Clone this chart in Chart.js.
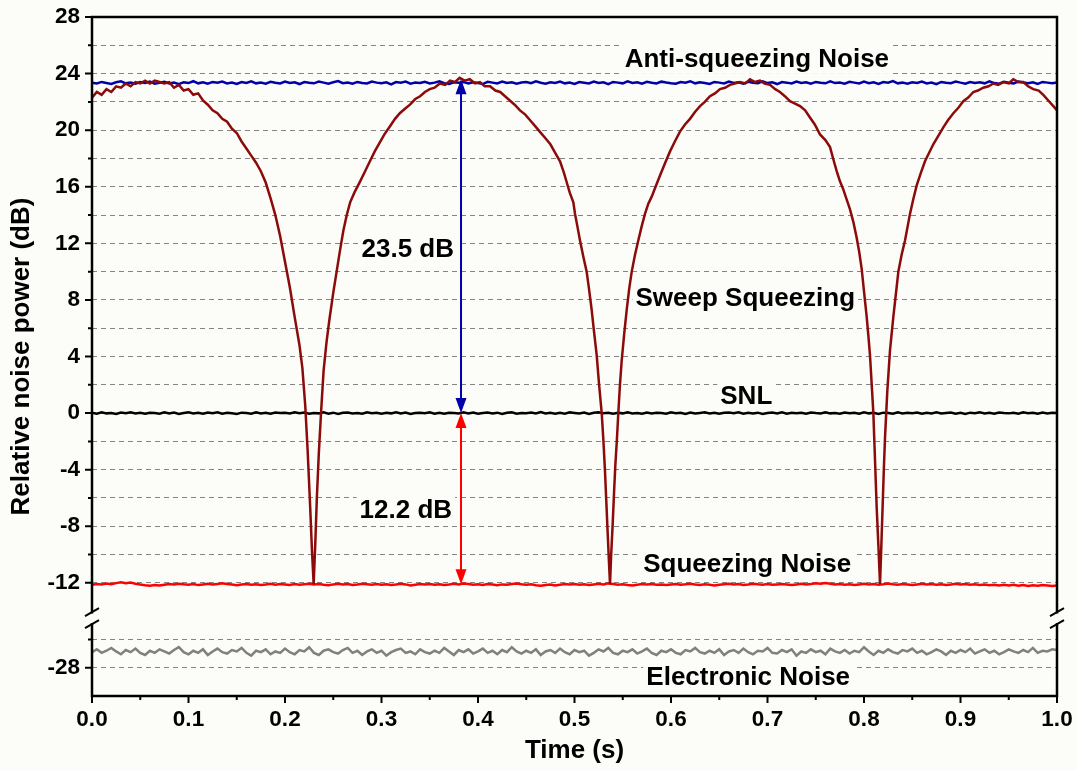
<!DOCTYPE html>
<html>
<head>
<meta charset="utf-8">
<script src="https://cdn.jsdelivr.net/npm/chart.js@4/dist/chart.umd.min.js"></script>
<style>
html,body{margin:0;padding:0;background:#fcfcf8;}
#wrap{width:1077px;height:770px;position:relative;}
</style>
</head>
<body>
<div id="wrap"><canvas id="c" width="1077" height="770"></canvas></div>
<script>
// ---------- DATA ----------
const xTickValues = [0.0,0.1,0.2,0.3,0.4,0.5,0.6,0.7,0.8,0.9,1.0];
const xMinorTickValues = [0.05,0.15,0.25,0.35,0.45,0.55,0.65,0.75,0.85,0.95];
const yTickLabelValues = [28,24,20,16,12,8,4,0,-4,-8,-12,-28];
const yMinorTickValues = [26,22,18,14,10,6,2,-2,-6,-10,-26];
const yGridValues = [26,24,22,20,18,16,14,12,10,8,6,4,2,0,-2,-4,-6,-8,-10,-12,-26,-28];

const noiseTime = [0.000,0.005,0.010,0.015,0.020,0.025,0.030,0.035,0.040,0.045,
0.050,0.055,0.060,0.065,0.070,0.075,0.080,0.085,0.090,0.095,
0.100,0.105,0.110,0.115,0.120,0.125,0.130,0.135,0.140,0.145,
0.150,0.155,0.160,0.165,0.170,0.175,0.180,0.185,0.190,0.195,
0.200,0.205,0.210,0.215,0.220,0.225,0.230,0.235,0.240,0.245,
0.250,0.255,0.260,0.265,0.270,0.275,0.280,0.285,0.290,0.295,
0.300,0.305,0.310,0.315,0.320,0.325,0.330,0.335,0.340,0.345,
0.350,0.355,0.360,0.365,0.370,0.375,0.380,0.385,0.390,0.395,
0.400,0.405,0.410,0.415,0.420,0.425,0.430,0.435,0.440,0.445,
0.450,0.455,0.460,0.465,0.470,0.475,0.480,0.485,0.490,0.495,
0.500,0.505,0.510,0.515,0.520,0.525,0.530,0.535,0.540,0.545,
0.550,0.555,0.560,0.565,0.570,0.575,0.580,0.585,0.590,0.595,
0.600,0.605,0.610,0.615,0.620,0.625,0.630,0.635,0.640,0.645,
0.650,0.655,0.660,0.665,0.670,0.675,0.680,0.685,0.690,0.695,
0.700,0.705,0.710,0.715,0.720,0.725,0.730,0.735,0.740,0.745,
0.750,0.755,0.760,0.765,0.770,0.775,0.780,0.785,0.790,0.795,
0.800,0.805,0.810,0.815,0.820,0.825,0.830,0.835,0.840,0.845,
0.850,0.855,0.860,0.865,0.870,0.875,0.880,0.885,0.890,0.895,
0.900,0.905,0.910,0.915,0.920,0.925,0.930,0.935,0.940,0.945,
0.950,0.955,0.960,0.965,0.970,0.975,0.980,0.985,0.990,0.995,
1.000];

const antiSqueezing = [23.36,23.30,23.41,23.33,23.27,23.39,23.45,23.31,23.36,23.28,
23.40,23.34,23.44,23.29,23.35,23.42,23.30,23.37,23.25,23.39,
23.33,23.46,23.31,23.38,23.28,23.41,23.35,23.43,23.30,23.36,
23.27,23.40,23.34,23.45,23.31,23.37,23.29,23.42,23.35,23.30,
23.44,23.33,23.38,23.26,23.40,23.35,23.31,23.43,23.36,23.29,
23.39,23.47,23.32,23.37,23.28,23.41,23.34,23.30,23.44,23.36,
23.31,23.38,23.24,23.40,23.35,23.43,23.29,23.37,23.33,23.42,
23.30,23.36,23.45,23.32,23.27,23.39,23.35,23.41,23.31,23.38,
23.34,23.26,23.42,23.36,23.30,23.44,23.33,23.39,23.28,23.37,
23.41,23.32,23.46,23.35,23.29,23.38,23.34,23.43,23.31,23.36,
23.27,23.40,23.35,23.30,23.44,23.33,23.38,23.25,23.41,23.36,
23.31,23.45,23.34,23.39,23.29,23.42,23.35,23.30,23.43,23.37,
23.32,23.28,23.40,23.35,23.46,23.31,23.38,23.33,23.27,23.41,
23.36,23.30,23.44,23.34,23.39,23.29,23.42,23.35,23.31,23.45,
23.33,23.38,23.26,23.40,23.36,23.30,23.43,23.34,23.39,23.28,
23.41,23.35,23.31,23.45,23.33,23.37,23.29,23.42,23.36,23.30,
23.44,23.32,23.38,23.27,23.40,23.35,23.47,23.31,23.36,23.29,
23.39,23.34,23.43,23.30,23.37,23.25,23.41,23.35,23.32,23.44,
23.36,23.29,23.40,23.34,23.38,23.31,23.45,23.33,23.28,23.42,
23.35,23.30,23.43,23.37,23.32,23.39,23.27,23.41,23.36,23.31,
23.38];

const snl = [0.03,-0.04,0.05,-0.02,0.01,-0.06,0.04,-0.01,0.06,-0.03,
0.02,-0.05,0.03,0.00,-0.04,0.05,-0.02,0.04,-0.06,0.01,
0.05,-0.03,0.02,-0.05,0.04,-0.01,0.06,-0.04,0.02,-0.02,
-0.06,0.03,0.01,-0.04,0.05,-0.02,0.03,-0.05,0.04,0.00,
0.02,-0.03,0.06,-0.01,0.04,-0.05,0.01,-0.02,0.05,-0.04,
0.03,-0.06,0.02,0.04,-0.03,0.01,-0.05,0.05,-0.01,0.03,
-0.04,0.02,-0.02,0.06,-0.03,0.04,-0.06,0.01,0.03,-0.01,
0.05,-0.04,0.02,-0.05,0.03,0.00,-0.03,0.06,-0.02,0.04,
-0.05,0.01,0.04,-0.02,0.03,-0.06,0.02,0.05,-0.04,0.01,
-0.01,0.04,-0.03,0.07,-0.02,0.03,-0.05,0.02,-0.04,0.05,
0.01,-0.03,0.04,-0.06,0.02,0.05,-0.01,0.03,-0.04,0.02,
-0.02,0.06,-0.03,0.01,-0.05,0.04,-0.02,0.03,0.00,-0.04,
0.05,-0.01,0.02,-0.06,0.04,-0.03,0.01,0.05,-0.02,0.03,
-0.05,0.02,0.04,-0.01,0.06,-0.04,0.02,-0.03,0.03,-0.06,
0.01,0.04,-0.02,0.05,-0.04,0.02,-0.01,0.03,-0.05,0.04,
0.00,-0.03,0.06,-0.02,0.01,-0.05,0.04,-0.01,0.03,-0.04,
0.05,-0.02,0.02,-0.06,0.03,0.01,-0.04,0.05,-0.03,0.02,
-0.01,0.04,-0.05,0.03,-0.02,0.06,-0.03,0.01,0.04,-0.04,
0.02,-0.06,0.03,-0.01,0.05,-0.03,0.02,-0.05,0.04,0.00,
-0.02,0.03,-0.04,0.05,-0.01,0.02,-0.05,0.04,-0.02,0.03,
0.01];

const squeezing = [-12.14,-12.08,-12.12,-12.05,-12.10,-12.02,-11.96,-12.03,-11.98,-12.06,
-12.12,-12.17,-12.21,-12.15,-12.19,-12.13,-12.08,-12.12,-12.06,-12.10,
-12.13,-12.08,-12.16,-12.11,-12.06,-12.12,-12.09,-12.03,-12.08,-12.12,
-12.17,-12.12,-12.08,-12.14,-12.10,-12.16,-12.12,-12.07,-12.13,-12.09,
-12.11,-12.15,-12.09,-12.14,-12.10,-12.06,-12.12,-12.08,-12.13,-12.17,
-12.11,-12.07,-12.12,-12.08,-12.15,-12.11,-12.06,-12.10,-12.14,-12.09,
-12.13,-12.10,-12.16,-12.12,-12.07,-12.11,-12.19,-12.14,-12.09,-12.12,
-12.08,-12.13,-12.10,-12.16,-12.12,-12.07,-12.11,-12.05,-12.09,-12.13,
-12.10,-12.15,-12.08,-12.12,-12.17,-12.11,-12.14,-12.09,-12.05,-12.10,
-12.14,-12.10,-12.17,-12.21,-12.16,-12.12,-12.18,-12.13,-12.09,-12.12,
-12.08,-12.13,-12.10,-12.15,-12.11,-12.07,-12.12,-12.04,-12.09,-12.14,
-12.10,-12.15,-12.19,-12.13,-12.09,-12.12,-12.08,-12.14,-12.11,-12.16,
-12.12,-12.08,-12.13,-12.10,-12.06,-12.11,-12.15,-12.10,-12.13,-12.18,
-12.14,-12.10,-12.07,-12.12,-12.09,-12.15,-12.11,-12.06,-12.10,-12.13,
-12.09,-12.14,-12.11,-12.08,-12.12,-12.16,-12.11,-12.07,-12.12,-12.09,
-12.03,-12.07,-12.01,-12.06,-12.11,-12.08,-12.13,-12.10,-12.15,-12.11,
-12.07,-12.12,-12.09,-12.14,-12.10,-12.05,-12.10,-12.13,-12.08,-12.12,
-12.16,-12.11,-12.07,-12.12,-12.09,-12.14,-12.10,-12.15,-12.11,-12.06,
-12.11,-12.08,-12.13,-12.10,-12.15,-12.12,-12.17,-12.13,-12.19,-12.14,
-12.18,-12.13,-12.20,-12.16,-12.22,-12.17,-12.21,-12.15,-12.19,-12.23,
-12.18];

const electronic = [-26.90,-26.70,-26.95,-26.80,-26.60,-26.85,-27.05,-26.75,-26.90,-26.65,
-26.95,-27.10,-26.80,-26.95,-26.70,-26.85,-27.00,-26.75,-26.55,-26.90,
-27.05,-26.80,-26.95,-26.70,-27.10,-26.85,-26.65,-26.90,-27.00,-26.75,
-26.85,-26.60,-26.95,-27.15,-26.80,-26.90,-26.70,-27.05,-26.85,-26.95,
-26.65,-26.90,-27.05,-26.75,-26.85,-26.55,-26.95,-27.10,-26.80,-26.70,
-26.90,-27.00,-26.75,-26.60,-26.95,-26.80,-27.10,-26.85,-26.70,-26.95,
-26.80,-27.15,-26.90,-26.75,-26.65,-26.95,-26.85,-27.05,-26.70,-26.90,
-27.00,-26.80,-26.95,-26.60,-26.85,-27.10,-26.75,-26.90,-26.70,-27.00,
-26.85,-26.65,-26.95,-26.80,-27.05,-26.75,-26.90,-26.55,-26.85,-27.00,
-26.80,-26.95,-26.70,-27.10,-26.85,-26.75,-26.95,-26.65,-26.90,-27.05,
-26.75,-26.90,-26.80,-27.15,-26.95,-26.70,-26.85,-26.60,-26.95,-27.05,
-26.80,-26.90,-26.70,-27.00,-26.85,-26.65,-26.95,-27.10,-26.80,-26.90,
-26.70,-26.95,-27.05,-26.75,-26.85,-26.60,-26.90,-27.00,-26.80,-26.95,
-26.70,-27.10,-26.85,-26.75,-26.95,-26.65,-26.90,-27.05,-26.80,-26.85,
-26.60,-26.95,-27.00,-26.75,-26.90,-26.70,-27.15,-26.85,-26.95,-26.70,
-26.90,-26.80,-27.05,-26.65,-26.85,-26.95,-26.75,-27.00,-26.80,-26.90,
-26.55,-26.85,-27.10,-26.80,-26.95,-26.70,-26.90,-27.00,-26.75,-26.85,
-26.65,-26.95,-26.80,-27.05,-26.90,-26.70,-26.85,-27.10,-26.80,-26.95,
-26.75,-26.90,-26.65,-27.00,-26.85,-26.70,-26.95,-26.80,-27.05,-26.90,
-26.70,-26.85,-26.95,-26.75,-26.90,-26.60,-26.95,-26.80,-26.85,-26.70,
-26.75];

const sweepTime = [0.000,0.005,0.010,0.015,0.020,0.025,0.030,0.035,0.040,0.045,
0.050,0.055,0.060,0.065,0.070,0.075,0.080,0.085,0.090,0.095,
0.100,0.105,0.110,0.115,0.120,0.125,0.130,0.135,0.140,0.145,
0.150,0.155,0.160,0.165,0.170,0.175,0.180,0.185,0.190,0.195,
0.200,0.205,0.210,0.215,0.218,0.221,0.2235,0.226,0.228,0.2297,
0.2315,0.233,0.235,0.2375,0.240,0.243,0.246,0.250,0.2535,0.257,
0.2605,0.264,0.2675,0.272,0.278,0.283,0.288,0.293,0.298,0.303,
0.309,0.314,0.319,0.324,0.3295,0.335,0.340,0.345,0.350,0.355,
0.3605,0.366,0.371,0.376,0.381,0.386,0.3915,0.397,0.402,0.407,
0.4125,0.418,0.423,0.428,0.433,0.438,0.4435,0.449,0.454,0.459,
0.464,0.469,0.475,0.480,0.485,0.489,0.492,0.495,0.4988,0.5005,
0.503,0.5057,0.509,0.5126,0.515,0.5178,0.520,0.523,0.5255,0.5282,
0.530,0.5316,0.533,0.5344,0.5357,0.5368,0.538,0.5396,0.541,0.5423,
0.544,0.5454,0.547,0.5489,0.5515,0.5541,0.5567,0.5593,0.5627,0.5661,
0.5696,0.5731,0.5765,0.580,0.584,0.5886,0.594,0.599,0.604,0.6093,
0.6145,0.6197,0.625,0.6301,0.635,0.6404,0.6455,0.6508,0.656,0.6611,
0.666,0.6715,0.677,0.6819,0.687,0.6922,0.697,0.7026,0.708,0.7129,
0.718,0.7233,0.728,0.7337,0.739,0.744,0.749,0.7544,0.760,0.7648,
0.768,0.7717,0.775,0.7786,0.782,0.7855,0.789,0.7924,0.795,0.7976,
0.800,0.8028,0.8045,0.8062,0.808,0.8097,0.8114,0.8131,0.815,0.8166,
0.818,0.8193,0.8205,0.8218,0.8241,0.8269,0.8304,0.833,0.8356,0.839,
0.8425,0.8477,0.851,0.8546,0.859,0.8632,0.8675,0.8718,0.877,0.8822,
0.887,0.8926,0.898,0.9029,0.908,0.9133,0.918,0.9236,0.929,0.934,
0.939,0.9443,0.950,0.9547,0.960,0.9651,0.970,0.9754,0.981,0.9858,
0.991,0.9962,1.000];

const sweepPower = [22.3,22.7,22.5,22.9,22.7,23.1,23.0,23.3,23.1,23.4,
23.3,23.5,23.3,23.5,23.4,23.3,23.4,23.0,23.2,22.8,
22.9,22.5,22.6,22.1,21.8,21.4,21.2,20.8,20.6,20.1,
19.8,19.2,18.7,18.2,17.7,17.1,16.3,15.2,14.0,12.5,
10.7,8.9,6.8,4.8,3.2,0.5,-2.7,-6.5,-9.8,-12.1,
-9.0,-6.0,-2.9,0.2,3.0,5.0,6.6,8.5,10.0,11.5,
12.9,14.0,14.9,15.6,16.4,17.1,17.8,18.5,19.1,19.7,
20.3,20.8,21.2,21.5,21.8,22.2,22.4,22.7,22.9,23.0,
23.3,23.2,23.5,23.4,23.7,23.5,23.6,23.3,23.4,23.1,
23.1,22.8,22.7,22.4,22.1,21.8,21.4,21.1,20.7,20.3,
19.9,19.5,19.0,18.4,17.8,17.0,16.3,15.6,14.9,14.1,
13.2,12.2,11.1,10.0,8.8,7.3,5.9,4.1,2.0,0.0,
-2.0,-4.1,-6.3,-8.5,-10.5,-12.1,-10.0,-7.8,-5.6,-3.7,
-1.8,0.0,1.9,3.7,5.6,7.3,8.8,10.0,11.2,12.2,
13.2,14.1,14.8,15.3,16.0,16.8,17.7,18.5,19.2,19.9,
20.4,20.8,21.3,21.7,22.0,22.4,22.6,22.9,23.0,23.2,
23.3,23.4,23.3,23.6,23.4,23.5,23.3,23.2,22.9,22.7,
22.4,22.05,21.9,21.7,21.4,20.9,20.4,19.7,19.3,18.8,
18.0,17.1,16.4,15.8,15.1,14.4,13.5,12.4,11.4,10.2,
8.6,6.8,5.5,4.1,2.0,0.0,-3.3,-6.6,-9.5,-12.1,
-9.3,-6.6,-4.1,-1.7,1.5,4.4,6.8,8.4,10.0,11.2,
12.2,14.1,15.1,16.1,17.0,17.8,18.4,19.0,19.6,20.2,
20.7,21.2,21.6,22.05,22.3,22.7,22.8,23.0,23.1,23.3,
23.2,23.4,23.3,23.6,23.4,23.4,23.1,22.9,22.8,22.5,
22.1,21.7,21.4];

// double-arrow annotation values (dB)
const arrowTime = 0.3824;
const antiArrowValues = [23.6, 0];
const squeezeArrowValues = [0, -12.1];

// ---------- AXIS BREAK (display mapping) ----------
const BREAK_REAL = -14;      // values below this are in the lower segment
const BREAK_SHIFT = 10;      // lower segment shifted up by this many dB on the drawing axis
const toAxis = v => v < BREAK_REAL ? v + BREAK_SHIFT : v;
const toReal = v => v < BREAK_REAL ? v - BREAK_SHIFT : v;

const BG = '#fcfcf8';
const FONT = '"Liberation Sans", Arial, sans-serif';

function pts(xs, ys){ return xs.map((x,i)=>({x:x, y:toAxis(ys[i])})); }

// text annotations: text, time, baseline value (dB, real)
const labels = [
  {text:'Anti-squeezing Noise', x:0.689, y:24.47},
  {text:'Sweep Squeezing', x:0.677, y:7.59},
  {text:'SNL', x:0.678, y:0.62},
  {text:'Squeezing Noise', x:0.679, y:-11.23},
  {text:'Electronic Noise', x:0.680, y:-29.22},
  {text:'23.5 dB', x:0.3272, y:11.01},
  {text:'12.2 dB', x:0.3252, y:-7.39}
];
const LABEL_FONT = 'bold 26px ' + FONT;

const decor = {
  id: 'decor',
  beforeDraw(chart){
    const ctx = chart.ctx;
    ctx.save(); ctx.fillStyle = BG; ctx.fillRect(0,0,chart.width,chart.height); ctx.restore();
  },
  beforeDatasetsDraw(chart){
    const ctx = chart.ctx, xs = chart.scales.x, ys = chart.scales.y;
    ctx.save();
    ctx.font = LABEL_FONT;
    ctx.fillStyle = BG;
    labels.forEach(l=>{
      const w = ctx.measureText(l.text).width;
      const cx = xs.getPixelForValue(l.x), by = ys.getPixelForValue(toAxis(l.y));
      ctx.fillRect(cx - w/2 - 3, by - 24, w + 6, 31);
    });
    ctx.restore();
  },
  afterDatasetsDraw(chart){
    const ctx = chart.ctx, xs = chart.scales.x, ys = chart.scales.y;
    const {left,right,top,bottom} = chart.chartArea;
    ctx.save();
    function dblArrow(vals, color){
      const x = xs.getPixelForValue(arrowTime);
      const y1 = ys.getPixelForValue(toAxis(vals[0]));
      const y2 = ys.getPixelForValue(toAxis(vals[1]));
      const hl = 15, hw = 5.5;
      ctx.strokeStyle = color; ctx.fillStyle = color; ctx.lineWidth = 2;
      ctx.beginPath(); ctx.moveTo(x, y1 + hl - 2); ctx.lineTo(x, y2 - hl + 2); ctx.stroke();
      ctx.beginPath(); ctx.moveTo(x, y1); ctx.lineTo(x - hw, y1 + hl); ctx.lineTo(x + hw, y1 + hl); ctx.closePath(); ctx.fill();
      ctx.beginPath(); ctx.moveTo(x, y2); ctx.lineTo(x - hw, y2 - hl); ctx.lineTo(x + hw, y2 - hl); ctx.closePath(); ctx.fill();
    }
    dblArrow(antiArrowValues, '#0000aa');
    dblArrow(squeezeArrowValues, '#ff0000');

    ctx.font = LABEL_FONT; ctx.fillStyle = '#000'; ctx.textAlign = 'center'; ctx.textBaseline = 'alphabetic';
    labels.forEach(l=>{
      ctx.fillText(l.text, xs.getPixelForValue(l.x), ys.getPixelForValue(toAxis(l.y)));
    });

    // frame with axis break
    const yc = ys.getPixelForValue(-14.5);
    const gap = 6;
    ctx.strokeStyle = '#000'; ctx.lineWidth = 2.5; ctx.lineCap = 'square';
    ctx.beginPath();
    ctx.moveTo(left, top); ctx.lineTo(right, top);
    ctx.moveTo(left, bottom); ctx.lineTo(right, bottom);
    [left, right].forEach(x=>{
      ctx.moveTo(x, top); ctx.lineTo(x, yc - gap);
      ctx.moveTo(x, yc + gap); ctx.lineTo(x, bottom);
    });
    ctx.stroke();
    ctx.lineCap = 'butt'; ctx.lineWidth = 2;
    ctx.beginPath();
    [left, right].forEach(x=>{
      [yc - gap, yc + gap].forEach(y=>{
        ctx.moveTo(x - 7, y + 4); ctx.lineTo(x + 7, y - 4);
      });
    });
    ctx.stroke();

    // tick marks (outward)
    ctx.lineWidth = 2;
    ctx.beginPath();
    xTickValues.forEach(v=>{ const x = xs.getPixelForValue(v); ctx.moveTo(x, bottom); ctx.lineTo(x, bottom + 7); });
    xMinorTickValues.forEach(v=>{ const x = xs.getPixelForValue(v); ctx.moveTo(x, bottom); ctx.lineTo(x, bottom + 4); });
    yTickLabelValues.forEach(v=>{ const y = ys.getPixelForValue(toAxis(v)); ctx.moveTo(left, y); ctx.lineTo(left - 7, y); });
    yMinorTickValues.forEach(v=>{ const y = ys.getPixelForValue(toAxis(v)); ctx.moveTo(left, y); ctx.lineTo(left - 4, y); });
    ctx.stroke();
    ctx.restore();
  }
};

const axisFont = {family: FONT, size: 22.5, weight: 'bold'};
const titleFont = {family: FONT, size: 26, weight: 'bold'};

new Chart(document.getElementById('c'), {
  type: 'line',
  data: {
    datasets: [
      {label:'Sweep Squeezing', data: pts(sweepTime, sweepPower), borderColor:'#8b0a0a', borderWidth:2.5},
      {label:'Anti-squeezing Noise', data: pts(noiseTime, antiSqueezing), borderColor:'#0000aa', borderWidth:2.5},
      {label:'SNL', data: pts(noiseTime, snl), borderColor:'#000000', borderWidth:2.5},
      {label:'Squeezing Noise', data: pts(noiseTime, squeezing), borderColor:'#ff0000', borderWidth:2.5},
      {label:'Electronic Noise', data: pts(noiseTime, electronic), borderColor:'#808080', borderWidth:2.5}
    ]
  },
  options: {
    responsive: false,
    animation: false,
    elements: {point: {radius: 0}, line: {tension: 0, fill: false}},
    layout: {padding: {top: 17, right: 20, left: 0, bottom: 0}},
    plugins: {legend: {display: false}, tooltip: {enabled: false}},
    scales: {
      x: {
        type: 'linear', min: 0, max: 1,
        afterFit: s => { s.height = 74; },
        afterBuildTicks: s => { s.ticks = xTickValues.map(v => ({value: v})); },
        ticks: {font: axisFont, color: '#000', padding: 0, maxRotation: 0, autoSkip: false,
                callback: v => Number(v).toFixed(1)},
        grid: {display: true, drawOnChartArea: false, drawTicks: true, tickLength: 10,
               color: 'transparent', tickColor: 'transparent'},
        border: {display: false},
        title: {display: true, text: 'Time (s)', font: titleFont, color: '#000', padding: {top: 0, bottom: 4}}
      },
      y: {
        type: 'linear', min: -20, max: 28,
        afterFit: s => { s.width = 92; },
        afterBuildTicks: s => {
          const vals = [];
          for (let v = 28; v >= -20; v -= 2) vals.push(v);
          s.ticks = vals.map(v => ({value: v}));
        },
        ticks: {font: axisFont, color: '#000', padding: 0, autoSkip: false,
                callback: v => { const r = toReal(v); return yTickLabelValues.includes(r) ? String(r) : ''; }},
        grid: {drawTicks: true, tickLength: 12, tickColor: 'transparent', lineWidth: 1,
               color: c => (c.tick && yGridValues.includes(toReal(c.tick.value))) ? '#858585' : 'transparent'},
        border: {display: false, dash: [5, 4]},
        title: {display: true, text: 'Relative noise power (dB)', font: titleFont, color: '#000', padding: {top: 6, bottom: 0}}
      }
    }
  },
  plugins: [decor]
});
</script>
</body>
</html>
